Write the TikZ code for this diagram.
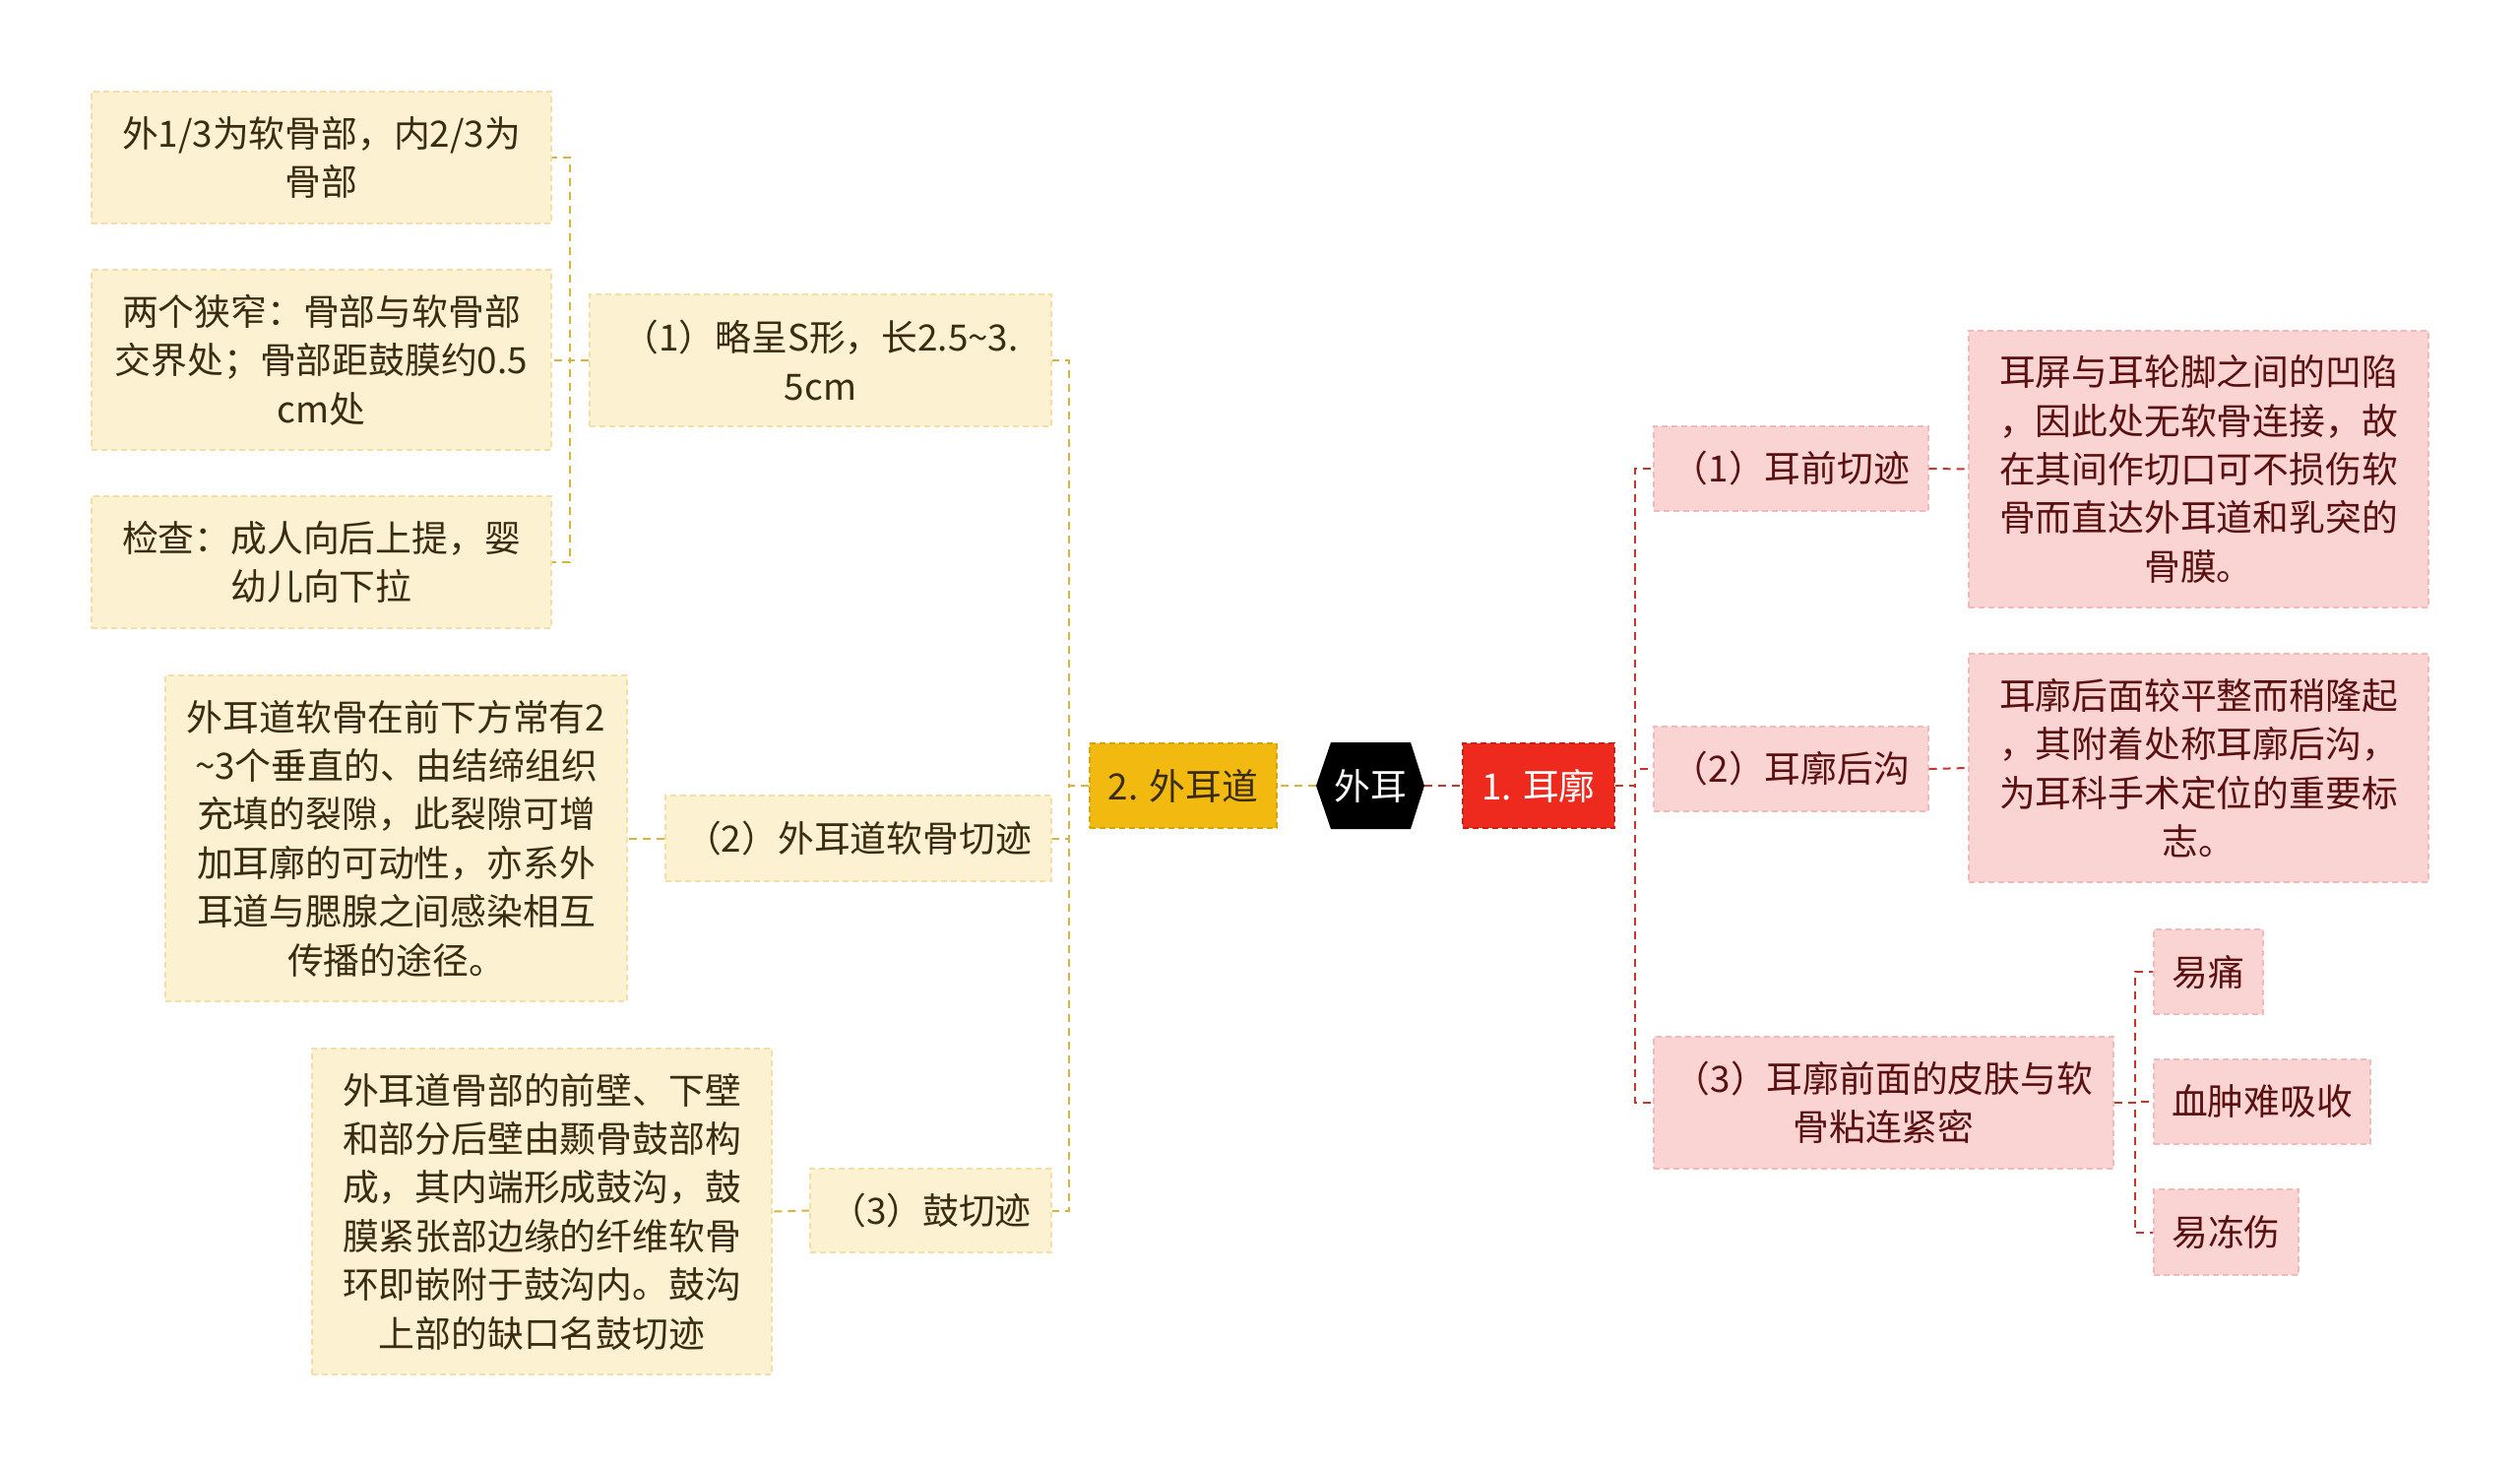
\documentclass[tikz,border=0pt]{standalone}
\usepackage{fontspec}
\setmainfont{Noto Sans CJK SC}
\definecolor{yfill}{HTML}{FCF1D1}
\definecolor{ydraw}{HTML}{F3DFA6}
\definecolor{ytext}{HTML}{3A2C10}
\definecolor{yline}{HTML}{D9B43C}
\definecolor{pfill}{HTML}{FAD4D3}
\definecolor{pdraw}{HTML}{F2B9B7}
\definecolor{ptext}{HTML}{5A1010}
\definecolor{pline}{HTML}{C0392B}
\definecolor{gold}{HTML}{F2BA10}
\definecolor{goldd}{HTML}{D9A400}
\definecolor{redm}{HTML}{EE2A1F}
\definecolor{redd}{HTML}{D01E14}
\tikzset{
  txt/.style={font=\fontsize{18.4}{24.7}\selectfont, align=center, inner sep=0pt},
  sz/.style 2 args={minimum width=#1pt, minimum height=#2pt},
  ybox/.style={txt, fill=yfill, draw=ydraw, dash pattern=on 3pt off 2pt, line width=0.6pt, text=ytext},
  pbox/.style={txt, fill=pfill, draw=pdraw, dash pattern=on 3pt off 2pt, line width=0.6pt, text=ptext},
  yconn/.style={draw=yline, line width=1pt, dash pattern=on 4pt off 3pt},
  pconn/.style={draw=pline, line width=1pt, dash pattern=on 4pt off 3pt},
}
\begin{document}
\begin{tikzpicture}[x=0.5pt,y=-0.5pt]
\useasboundingbox (0,0) rectangle (2560,1489);
% centre
\fill[black] (1337,798) -- (1352,754) -- (1433,754) -- (1447,798) -- (1433,842) -- (1352,842) -- cycle;
\node[txt, text=white, sz={55}{44}] (root) at (1392,798) {外耳};
\node[txt, fill=gold, draw=goldd, dash pattern=on 3pt off 2pt, line width=0.6pt, text=ytext, sz={95}{43}] (wed) at (1202,798) {2. 外耳道};
\node[txt, fill=redm, draw=redd, dash pattern=on 3pt off 2pt, line width=0.6pt, text=white, sz={77}{43}] (erk) at (1563,798) {1. 耳廓};
% left side
\node[ybox, sz={234.5}{67}] (l1) at (833.5,366) {（1）略呈S形，长2.5\textasciitilde3.\\5cm};
\node[ybox, sz={196}{43.5}] (l2) at (872,851.5) {（2）外耳道软骨切迹};
\node[ybox, sz={122.5}{42.5}] (l3) at (945.5,1229.5) {（3）鼓切迹};
\node[ybox, sz={233.5}{67}] (l1a) at (326.5,160) {外1/3为软骨部，内2/3为\\骨部};
\node[ybox, sz={233.5}{91.5}] (l1b) at (326.5,365.5) {两个狭窄：骨部与软骨部\\交界处；骨部距鼓膜约0.5\\cm处};
\node[ybox, sz={233.5}{67}] (l1c) at (326.5,571) {检查：成人向后上提，婴\\幼儿向下拉};
\node[ybox, sz={234.5}{165.5}] (l2a) at (402.5,851.5) {外耳道软骨在前下方常有2\\\textasciitilde3个垂直的、由结缔组织\\充填的裂隙，此裂隙可增\\加耳廓的可动性，亦系外\\耳道与腮腺之间感染相互\\传播的途径。};
\node[ybox, sz={233.5}{165.5}] (l3a) at (550.5,1230.5) {外耳道骨部的前壁、下壁\\和部分后壁由颞骨鼓部构\\成，其内端形成鼓沟，鼓\\膜紧张部边缘的纤维软骨\\环即嵌附于鼓沟内。鼓沟\\上部的缺口名鼓切迹};
% right side
\node[pbox, sz={139.5}{43}] (r1) at (1819.5,476) {（1）耳前切迹};
\node[pbox, sz={139.5}{43}] (r2) at (1819.5,781) {（2）耳廓后沟};
\node[pbox, sz={233.5}{67}] (r3) at (1913.5,1120) {（3）耳廓前面的皮肤与软\\骨粘连紧密};
\node[pbox, sz={233.5}{140.5}] (r1a) at (2233.5,476.5) {耳屏与耳轮脚之间的凹陷\\，因此处无软骨连接，故\\在其间作切口可不损伤软\\骨而直达外耳道和乳突的\\骨膜。};
\node[pbox, sz={233.5}{116}] (r2a) at (2233.5,780) {耳廓后面较平整而稍隆起\\，其附着处称耳廓后沟，\\为耳科手术定位的重要标\\志。};
\node[pbox, sz={55.5}{43}] (r3a) at (2243.5,987) {易痛};
\node[pbox, sz={110}{43}] (r3b) at (2298,1119) {血肿难吸收};
\node[pbox, sz={73.5}{43.5}] (r3c) at (2261.5,1251.5) {易冻伤};
% connectors
\draw[yconn] (root.west) -- (wed.east);
\draw[pconn] (root.east) -- (erk.west);
\draw[yconn] (wed.west) -- ++(-20,0) |- (l1.east);
\draw[yconn] (wed.west) -- ++(-20,0) |- (l2.east);
\draw[yconn] (wed.west) -- ++(-20,0) |- (l3.east);
\draw[yconn] (l1.west) -- ++(-19,0) |- (l1a.east);
\draw[yconn] (l1.west) -- ++(-19,0) |- (l1b.east);
\draw[yconn] (l1.west) -- ++(-19,0) |- (l1c.east);
\draw[yconn] (l2.west) -- (l2a.east);
\draw[yconn] (l3.west) -- (l3a.east);
\draw[pconn] (erk.east) -- ++(20,0) |- (r1.west);
\draw[pconn] (erk.east) -- ++(20,0) |- (r2.west);
\draw[pconn] (erk.east) -- ++(20,0) |- (r3.west);
\draw[pconn] (r1.east) -- (r1a.west);
\draw[pconn] (r2.east) -- (r2a.west);
\draw[pconn] (r3.east) -- ++(21,0) |- (r3a.west);
\draw[pconn] (r3.east) -- ++(21,0) |- (r3b.west);
\draw[pconn] (r3.east) -- ++(21,0) |- (r3c.west);
\end{tikzpicture}
\end{document}
